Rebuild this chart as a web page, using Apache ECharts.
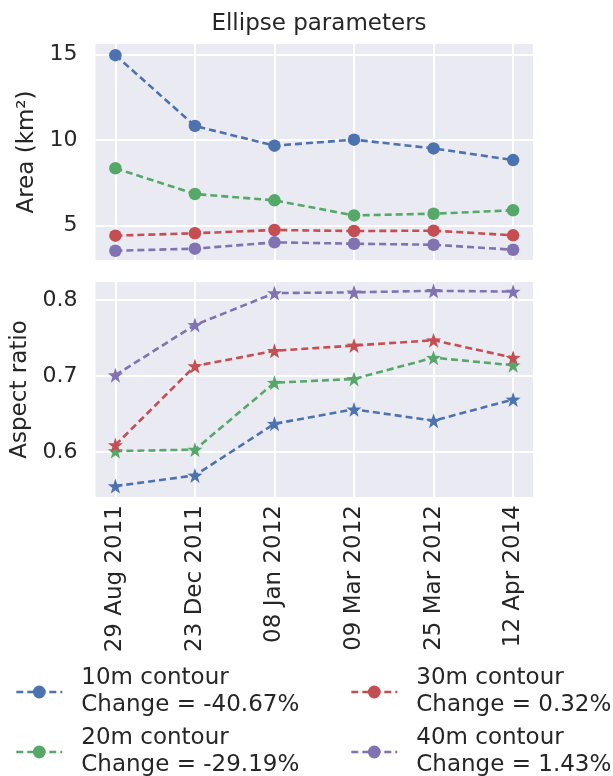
<!DOCTYPE html>
<html>
<head>
<meta charset="utf-8">
<script src="https://cdn.jsdelivr.net/npm/echarts@6/dist/echarts.min.js"></script>
<style>
  html, body { margin: 0; padding: 0; background: #fff; }
  #chart { width: 613px; height: 776px; }
</style>
</head>
<body>
<div id="chart"></div>
<script>
// Ellipse parameters: area (top) and aspect ratio (bottom) per contour level.

const dates = ['29 Aug 2011', '23 Dec 2011', '08 Jan 2012', '09 Mar 2012', '25 Mar 2012', '12 Apr 2014'];
const contours = ['10m contour', '20m contour', '30m contour', '40m contour'];
const changes = ['-40.67%', '-29.19%', '0.32%', '1.43%'];

const area10 = [14.95, 10.82, 9.67, 10.02, 9.51, 8.83];
const area20 = [8.35, 6.85, 6.48, 5.60, 5.70, 5.90];
const area30 = [4.42, 4.56, 4.75, 4.69, 4.71, 4.44];
const area40 = [3.54, 3.66, 4.03, 3.95, 3.89, 3.60];

const aspect10 = [0.555, 0.569, 0.637, 0.656, 0.641, 0.669];
const aspect20 = [0.601, 0.603, 0.691, 0.696, 0.724, 0.714];
const aspect30 = [0.609, 0.713, 0.733, 0.740, 0.747, 0.724];
const aspect40 = [0.701, 0.767, 0.809, 0.810, 0.812, 0.811];

const areaTicks = [5, 10, 15];
const aspectTicks = [0.6, 0.7, 0.8];

const colors = ['#4C72B0', '#55A868', '#C44E52', '#8172B2'];
const TXT = '#262626';
const FONT = 'DejaVu Sans';
const FS = 23;
const STAR = 'path://M0,-10 L2.35,-3.24 9.51,-3.09 3.8,1.24 5.88,8.09 0,4 -5.88,8.09 -3.8,1.24 -9.51,-3.09 -2.35,-3.24Z';

const xIdx = dates.map((d, i) => i);
const pairs = (arr) => arr.map((v, i) => [i, v]);

const chart = echarts.init(document.getElementById('chart'));

function xAxis(gridIndex, showLabels) {
  return {
    type: 'value', gridIndex, min: -0.25, max: 5.25,
    axisLine: { show: false },
    axisTick: { show: false, customValues: xIdx },
    axisLabel: {
      show: showLabels, customValues: xIdx, rotate: 90, margin: 8,
      fontSize: FS, color: TXT, fontFamily: FONT,
      formatter: (v) => dates[Math.round(v)],
    },
    splitLine: { show: true, lineStyle: { color: '#fff', width: 2 } },
  };
}

function yAxis(gridIndex, min, max, ticks, name, gap) {
  return {
    type: 'value', gridIndex, min, max,
    name, nameLocation: 'middle', nameGap: gap, nameRotate: 90,
    nameTextStyle: { fontSize: FS, color: TXT, fontFamily: FONT },
    axisLine: { show: false },
    axisTick: { show: false, customValues: ticks },
    axisLabel: { customValues: ticks, margin: 18, fontSize: 22, color: TXT, fontFamily: FONT },
    splitLine: { show: true, lineStyle: { color: '#fff', width: 2 } },
  };
}

function line(name, data, i, axis, symbol, size) {
  return {
    name, type: 'line', xAxisIndex: axis, yAxisIndex: axis,
    data: pairs(data), symbol, symbolSize: size,
    itemStyle: { color: colors[i] },
    lineStyle: { color: colors[i], width: 2.6, type: [7, 4] },
    emphasis: { disabled: true }, animation: false,
  };
}

// one legend per entry so the 2x2 layout is fixed
const legendPos = [[15, 665], [15, 725], [350, 665], [350, 725]];
const legends = contours.map((c, i) => ({
  data: [c], left: legendPos[i][0], top: legendPos[i][1], padding: 0,
  itemWidth: 46, itemHeight: 16,
  lineStyle: { width: 2.6 },
  textStyle: { fontSize: FS, lineHeight: 27, color: TXT, fontFamily: FONT, padding: [0, 0, 0, 14] },
  formatter: (n) => n + '\nChange = ' + changes[contours.indexOf(n)],
}));

chart.setOption({
  backgroundColor: '#fff',
  title: {
    text: 'Ellipse parameters', left: 314, textAlign: 'center', top: 8,
    textStyle: { fontSize: FS, fontWeight: 'normal', color: TXT, fontFamily: FONT },
  },
  grid: [
    { left: 95.5, width: 437.5, top: 44, height: 216, backgroundColor: '#EAEAF2', show: true, borderWidth: 0 },
    { left: 95.5, width: 437.5, top: 282, height: 215, backgroundColor: '#EAEAF2', show: true, borderWidth: 0 },
  ],
  xAxis: [xAxis(0, false), xAxis(1, true)],
  yAxis: [
    yAxis(0, 3.0, 15.6, areaTicks, 'Area (km²)', 56),
    yAxis(1, 0.5406, 0.8236, aspectTicks, 'Aspect ratio', 64),
  ],
  legend: legends,
  series: [
    line(contours[0], area10, 0, 0, 'circle', 12.5),
    line(contours[1], area20, 1, 0, 'circle', 12.5),
    line(contours[2], area30, 2, 0, 'circle', 12.5),
    line(contours[3], area40, 3, 0, 'circle', 12.5),
    line(contours[0], aspect10, 0, 1, STAR, 15),
    line(contours[1], aspect20, 1, 1, STAR, 15),
    line(contours[2], aspect30, 2, 1, STAR, 15),
    line(contours[3], aspect40, 3, 1, STAR, 15),
  ],
});
</script>
</body>
</html>
